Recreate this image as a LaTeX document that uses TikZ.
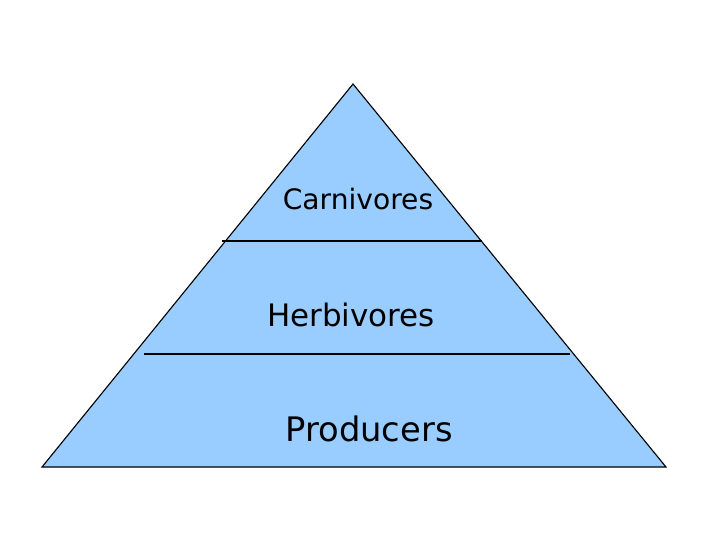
\documentclass[tikz,border=0pt]{standalone}
\usepackage{fontspec}
\setmainfont{DejaVu Sans}
\usepackage{tikz}
\usepackage{xcolor}
\definecolor{pyramidblue}{HTML}{99CCFF}
\tikzset{
    level/.style = {
        text            = black,
        inner sep = 0pt,
    }
}

\begin{document}
\begin{tikzpicture}[x=0.025cm,y=-0.025cm,line width=0.8pt]
  \useasboundingbox (0,0) rectangle (720,540);

  % Pyramid
  \coordinate (Top) at (353,84);
  \coordinate (BaseLeft) at (42,467);
  \coordinate (BaseRight) at (666,467);
  \draw[draw=black,fill=pyramidblue] (Top) -- (BaseLeft) -- (BaseRight) -- cycle;

  % Dividers
  \coordinate (UpperLeft) at (222,241);
  \coordinate (UpperRight) at (482,241);
  \coordinate (LowerLeft) at (144,354);
  \coordinate (LowerRight) at (570,354);
  \draw[-,draw=black] (UpperLeft) to (UpperRight);
  \draw[-,draw=black] (LowerLeft) to (LowerRight);

  % Levels
  \node[level,font=\fontsize{20}{24}\selectfont] (Carnivores) at (358,199) {Carnivores};
  \node[level,font=\fontsize{22}{26}\selectfont] (Herbivores) at (351,315) {Herbivores};
  \node[level,font=\fontsize{24}{28}\selectfont] (Producers) at (369,429) {Producers};

\end{tikzpicture}
\end{document}
